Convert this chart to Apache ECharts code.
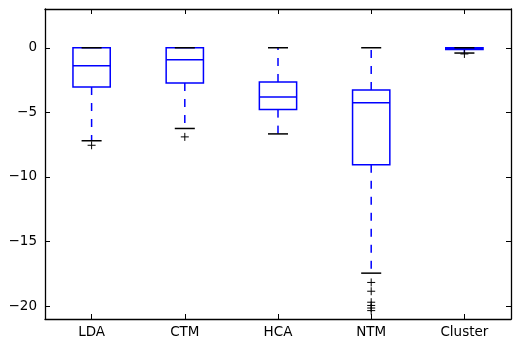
<!DOCTYPE html>
<html><head><meta charset="utf-8">
<script src="https://cdn.jsdelivr.net/npm/echarts@6/dist/echarts.min.js"></script>
<style>html,body{margin:0;padding:0;background:#fff}#c{width:519px;height:349px}</style>
</head><body><div id="c"></div>
<script>
const categories = ['LDA', 'CTM', 'HCA', 'NTM', 'Cluster'];
const whiskerLow = [-7.2, -6.25, -6.67, -17.45, -0.41];
const q1 = [-3.04, -2.73, -4.79, -9.06, -0.13];
const median = [-1.39, -0.93, -3.81, -4.25, -0.05];
const q3 = [0, 0, -2.65, -3.27, 0];
const whiskerHigh = [0, 0, 0, 0, 0];
const outlierCat = [0, 1, 3, 3, 3, 3, 3, 3, 4];
const outlierVal = [-7.55, -6.9, -18.17, -18.85, -19.7, -19.95, -20.15, -20.35, -0.48];
const yTicks = [0, -5, -10, -15, -20];
const yMin = -21, yMax = 3;

const BLUE = '#0000ff';
const FONT = 'DejaVu Sans';

const boxData = categories.map((c, i) => [i, whiskerLow[i], q1[i], median[i], q3[i], whiskerHigh[i]]);
const outData = outlierCat.map((c, i) => [c, outlierVal[i]]);

function renderBox(params, api) {
  const x = api.value(0);
  const lo = api.coord([x, api.value(1)]);
  const b1 = api.coord([x, api.value(2)]);
  const md = api.coord([x, api.value(3)]);
  const b3 = api.coord([x, api.value(4)]);
  const hi = api.coord([x, api.value(5)]);
  const slot = api.size([1, 0])[0];
  const bw = slot * 0.4, cw = slot * 0.215;
  const cx = lo[0];
  const lw = 1.5;
  const ch = [];
  ch.push({type: 'line', shape: {x1: cx, y1: b1[1], x2: cx, y2: lo[1]}, style: {stroke: BLUE, lineWidth: lw, lineDash: [8, 8]}});
  ch.push({type: 'line', shape: {x1: cx, y1: b3[1], x2: cx, y2: hi[1]}, style: {stroke: BLUE, lineWidth: lw, lineDash: [8, 8]}});
  ch.push({type: 'rect', shape: {x: cx - bw / 2, y: b3[1], width: bw, height: b1[1] - b3[1]}, style: {stroke: BLUE, fill: 'none', lineWidth: lw}});
  ch.push({type: 'line', shape: {x1: cx - bw / 2, y1: md[1], x2: cx + bw / 2, y2: md[1]}, style: {stroke: BLUE, lineWidth: lw}});
  ch.push({type: 'line', shape: {x1: cx - cw / 2, y1: lo[1], x2: cx + cw / 2, y2: lo[1]}, style: {stroke: '#000', lineWidth: lw}});
  ch.push({type: 'line', shape: {x1: cx - cw / 2, y1: hi[1], x2: cx + cw / 2, y2: hi[1]}, style: {stroke: '#000', lineWidth: lw}});
  return {type: 'group', children: ch};
}

function renderPlus(params, api) {
  const p = api.coord([api.value(0), api.value(1)]);
  const h = 4;
  return {type: 'group', children: [
    {type: 'line', shape: {x1: p[0] - h, y1: p[1], x2: p[0] + h, y2: p[1]}, style: {stroke: '#000', lineWidth: 1}},
    {type: 'line', shape: {x1: p[0], y1: p[1] - h, x2: p[0], y2: p[1] + h}, style: {stroke: '#000', lineWidth: 1}}
  ]};
}

const fmt = v => v < 0 ? '\u2212' + (-v) : String(v);
const axisLine = {show: true, onZero: false, lineStyle: {color: '#000', width: 1.3}};

const chart = echarts.init(document.getElementById('c'), null, {renderer: 'canvas'});
chart.setOption({
  animation: false,
  backgroundColor: '#fff',
  grid: {left: 45, right: 8, top: 9, bottom: 30, containLabel: false},
  xAxis: [
    {type: 'category', data: categories, position: 'bottom', boundaryGap: true,
     axisLine: axisLine,
     axisTick: {show: true, inside: true, alignWithLabel: true, length: 5, lineStyle: {color: '#000'}},
     axisLabel: {color: '#000', fontSize: 13.5, fontFamily: FONT, margin: 6},
     splitLine: {show: false}},
    {type: 'category', data: categories, position: 'top', boundaryGap: true,
     axisLine: axisLine,
     axisTick: {show: true, inside: true, alignWithLabel: true, length: 5, lineStyle: {color: '#000'}},
     axisLabel: {show: false}, splitLine: {show: false}}
  ],
  yAxis: [
    {type: 'value', min: yMin, max: yMax, position: 'left',
     axisLine: axisLine,
     axisTick: {show: true, inside: true, length: 5, customValues: yTicks, lineStyle: {color: '#000'}},
     axisLabel: {color: '#000', fontSize: 13.5, fontFamily: FONT, margin: 8, customValues: yTicks, formatter: fmt},
     splitLine: {show: false}},
    {type: 'value', min: yMin, max: yMax, position: 'right',
     axisLine: axisLine,
     axisTick: {show: true, inside: true, length: 5, customValues: yTicks, lineStyle: {color: '#000'}},
     axisLabel: {show: false, customValues: yTicks}, splitLine: {show: false}}
  ],
  series: [
    {type: 'custom', xAxisIndex: 0, yAxisIndex: 0, renderItem: renderBox, data: boxData,
     encode: {x: 0, y: [1, 2, 3, 4, 5]}, clip: false, z: 2},
    {type: 'custom', xAxisIndex: 0, yAxisIndex: 0, renderItem: renderPlus, data: outData,
     encode: {x: 0, y: 1}, z: 3}
  ]
});
</script>
</body></html>
